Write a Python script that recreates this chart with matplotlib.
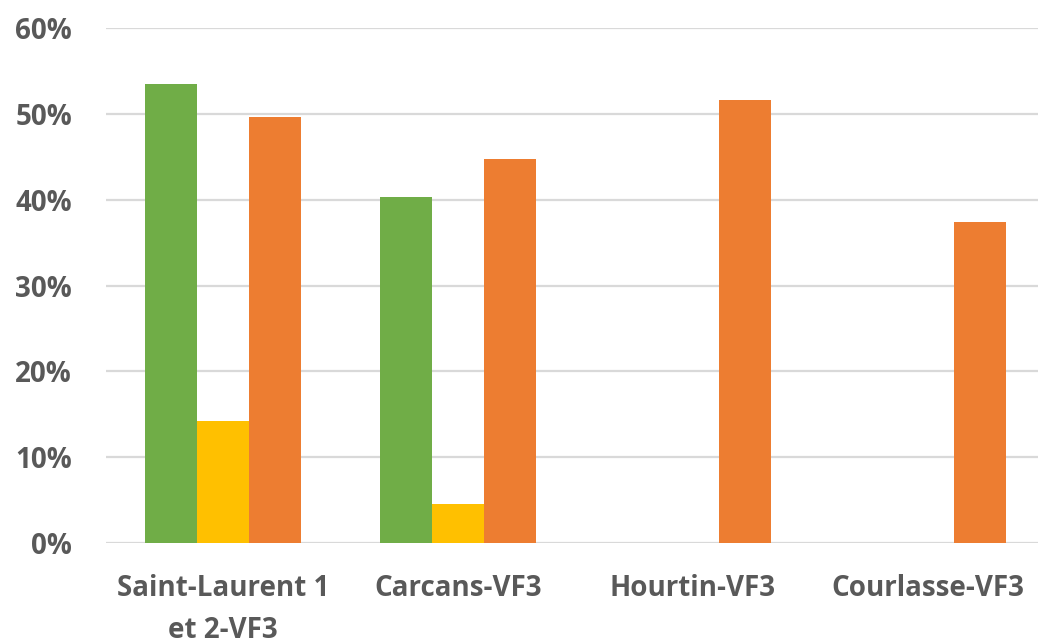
import matplotlib
matplotlib.use("Agg")
import matplotlib.pyplot as plt
import numpy as np

categories = ["Saint-Laurent 1\net 2-VF3", "Carcans-VF3", "Hourtin-VF3", "Courlasse-VF3"]
green_vals = [53.5, 40.3, 0.0, 0.0]
yellow_vals = [14.2, 4.6, 0.0, 0.0]
orange_vals = [49.6, 44.7, 51.6, 37.4]
yticks = [0, 10, 20, 30, 40, 50, 60]

W, H = 1038, 643
fig = plt.figure(figsize=(W / 100, H / 100), dpi=100)
left_px, right_px = 105.5, 1045.5
bottom_px, top_px = 543, 28.2
ax = fig.add_axes([left_px / W, 1 - bottom_px / H, (right_px - left_px) / W, (bottom_px - top_px) / H])

x = np.arange(len(categories))
bw = 0.221
ax.bar(x - bw, green_vals, bw, color="#70AD47", zorder=3)
ax.bar(x, yellow_vals, bw, color="#FFC000", zorder=3)
ax.bar(x + bw, orange_vals, bw, color="#ED7D31", zorder=3)

ax.set_xlim(-0.5, len(categories) - 0.5)
ax.set_ylim(0, 60)
ax.set_yticks(yticks)
ax.set_yticklabels([f"{v}%" for v in yticks])
ax.yaxis.grid(True, color="#D9D9D9", linewidth=1.6, zorder=0)
ax.set_xticks(x)
ax.set_xticklabels(categories, linespacing=1.6)
for s in ax.spines.values():
    s.set_visible(False)
ax.tick_params(axis="both", length=0, colors="#595959")
ax.tick_params(axis="y", pad=24)
ax.tick_params(axis="x", pad=22)
for lab in ax.get_xticklabels() + ax.get_yticklabels():
    lab.set_fontfamily("Open Sans")
    lab.set_fontweight("bold")
    lab.set_fontsize(20)
    lab.set_color("#595959")
for lab in ax.get_xticklabels():
    lab.set_verticalalignment("top")

fig.savefig("out.png", dpi=100)
